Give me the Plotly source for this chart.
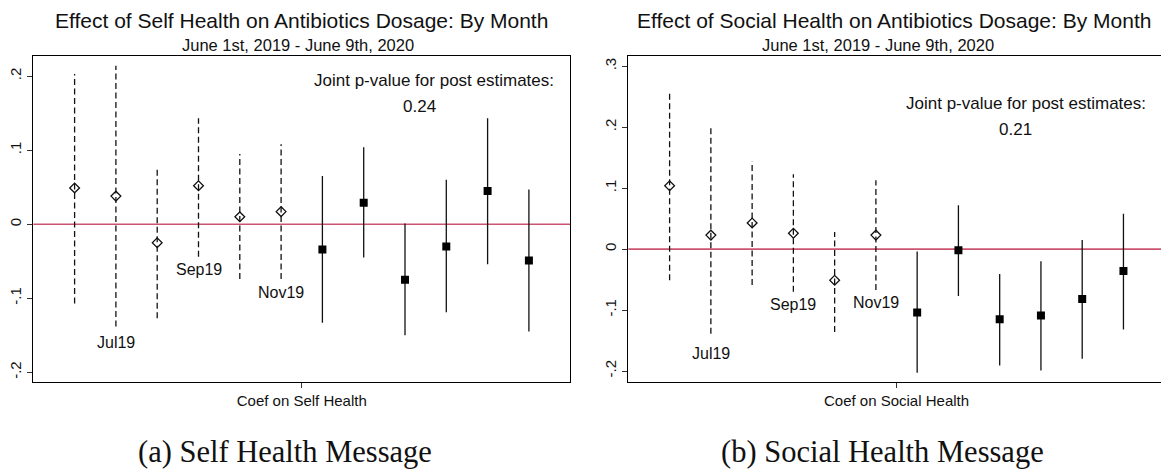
import plotly.graph_objects as go

# Monthly event-study coefficients (periods 1-6 are pre-period months, 7-12 post)
periods = list(range(1, 13))
n_pre = 6

self_coef = [0.049, 0.038, -0.025, 0.052, 0.010, 0.017, -0.034, 0.029, -0.075, -0.030, 0.045, -0.049]
self_lo = [-0.107, -0.138, -0.127, -0.044, -0.074, -0.074, -0.133, -0.045, -0.150, -0.119, -0.054, -0.145]
self_hi = [0.203, 0.214, 0.076, 0.143, 0.095, 0.108, 0.065, 0.104, 0.001, 0.060, 0.143, 0.047]

social_coef = [0.104, 0.023, 0.043, 0.026, -0.051, 0.023, -0.104, -0.002, -0.115, -0.109, -0.082, -0.036]
social_lo = [-0.051, -0.139, -0.059, -0.070, -0.136, -0.067, -0.203, -0.077, -0.191, -0.199, -0.180, -0.132]
social_hi = [0.258, 0.199, 0.144, 0.123, 0.028, 0.113, -0.004, 0.072, -0.041, -0.020, 0.015, 0.058]

month_labels = ["Jul19", "Sep19", "Nov19"]
month_periods = [2, 4, 6]

y_tickvals_self = [-0.2, -0.1, 0.0, 0.1, 0.2]
y_ticktext_self = ["-.2", "-.1", "0", ".1", ".2"]
y_tickvals_social = [-0.2, -0.1, 0.0, 0.1, 0.2, 0.3]
y_ticktext_social = ["-.2", "-.1", "0", ".1", ".2", ".3"]

titles = ["Effect of Self Health on Antibiotics Dosage: By Month",
          "Effect of Social Health on Antibiotics Dosage: By Month"]
subtitle = "June 1st, 2019 - June 9th, 2020"
x_titles = ["Coef on Self Health", "Coef on Social Health"]
joint_p = ["0.24", "0.21"]
captions = ["(a) Self Health Message", "(b) Social Health Message"]

W, H = 1161, 472
SANS = "Liberation Sans, Arial, Helvetica, sans-serif"
SERIF = "Liberation Serif, Times New Roman, serif"
INK = "#111111"
ZERO = "#cc5471"


def px_x(v):
    return v / W


def px_y(v):
    return 1 - v / H


def segments(xs, lo, hi):
    sx, sy = [], []
    for x, a, b in zip(xs, lo, hi):
        sx += [x, x, None]
        sy += [a, b, None]
    return sx, sy


def text(x, y, s, size, family=SANS, **kw):
    fig.add_annotation(x=x, y=y, text=s, showarrow=False, xanchor="center",
                       yanchor="middle", font=dict(family=family, size=size, color=INK),
                       **kw)


fig = go.Figure()

panels = [
    dict(xa="x", ya="y", coef=self_coef, lo=self_lo, hi=self_hi,
         label_shift=[-16, -13, -13]),
    dict(xa="x2", ya="y2", coef=social_coef, lo=social_lo, hi=social_hi,
         label_shift=[-20, -13, -13]),
]

for p in panels:
    pre_x = periods[:n_pre]
    post_x = periods[n_pre:]
    # zero reference line
    fig.add_shape(type="line", xref=f"{p['xa']} domain", yref=p["ya"],
                  x0=0, x1=1, y0=0, y1=0,
                  line=dict(color=ZERO, width=1.6), layer="below")
    # confidence intervals: dashed before, solid after
    sx, sy = segments(pre_x, p["lo"][:n_pre], p["hi"][:n_pre])
    fig.add_trace(go.Scatter(x=sx, y=sy, mode="lines", xaxis=p["xa"], yaxis=p["ya"],
                             line=dict(color=INK, width=1.3, dash="6px,3.5px"),
                             hoverinfo="skip"))
    sx, sy = segments(post_x, p["lo"][n_pre:], p["hi"][n_pre:])
    fig.add_trace(go.Scatter(x=sx, y=sy, mode="lines", xaxis=p["xa"], yaxis=p["ya"],
                             line=dict(color=INK, width=1.3), hoverinfo="skip"))
    # point estimates
    fig.add_trace(go.Scatter(x=pre_x, y=p["coef"][:n_pre], mode="markers",
                             xaxis=p["xa"], yaxis=p["ya"],
                             marker=dict(symbol="diamond-open", size=7.5,
                                         color=INK, line=dict(width=1.3, color=INK))))
    fig.add_trace(go.Scatter(x=post_x, y=p["coef"][n_pre:], mode="markers",
                             xaxis=p["xa"], yaxis=p["ya"],
                             marker=dict(symbol="square", size=8, color="black")))
    # month labels under selected pre-period intervals
    for lab, per, sh in zip(month_labels, month_periods, p["label_shift"]):
        text(per, p["lo"][per - 1], lab, 16, xref=p["xa"], yref=p["ya"], yshift=sh)

# titles, subtitles, joint p-values and captions
title_cx = [301.6, 894]
subtitle_cx = [297.5, 878]
for i in range(2):
    text(px_x(title_cx[i]), px_y(20.5), titles[i], 21, xref="paper", yref="paper")
    text(px_x(subtitle_cx[i]), px_y(45), subtitle, 16.5, xref="paper", yref="paper")

joint_pos = [(434, 80, 419.5, 107), (1026, 103.3, 1015, 130)]
for i, (jx, jy, vx, vy) in enumerate(joint_pos):
    text(px_x(jx), px_y(jy), "Joint p-value for post estimates:", 17,
         xref="paper", yref="paper")
    text(px_x(vx), px_y(vy), joint_p[i], 17, xref="paper", yref="paper")

caption_cx = [285, 882]
for i in range(2):
    text(px_x(caption_cx[i]), px_y(452), captions[i], 30.5, family=SERIF,
         xref="paper", yref="paper")

y_dom = [px_y(382.3), px_y(56.3)]
axis_common = dict(showgrid=False, zeroline=False, ticks="outside", ticklen=5,
                   tickwidth=1.2, tickcolor="#333333", showline=True,
                   linecolor="black", linewidth=1.2, fixedrange=True)

fig.update_layout(
    width=W, height=H,
    margin=dict(l=0, r=0, t=0, b=0),
    paper_bgcolor="white", plot_bgcolor="white",
    showlegend=False,
    xaxis=dict(domain=[px_x(33.3), px_x(570.2)], range=[0, 13],
               tickvals=[6.5], ticktext=[x_titles[0]], mirror=True,
               tickfont=dict(family=SANS, size=15, color=INK), anchor="y",
               **axis_common),
    yaxis=dict(domain=y_dom, range=[-0.2135, 0.2268],
               tickvals=y_tickvals_self, ticktext=y_ticktext_self, tickangle=-90,
               mirror=True, anchor="x",
               tickfont=dict(family=SANS, size=15, color=INK), **axis_common),
    xaxis2=dict(domain=[px_x(628.35), 1.0], range=[0, 12.91],
                tickvals=[6.5], ticktext=[x_titles[1]], mirror=True,
                tickfont=dict(family=SANS, size=15, color=INK), anchor="y2",
                **axis_common),
    yaxis2=dict(domain=y_dom, range=[-0.2185, 0.3164],
                tickvals=y_tickvals_social, ticktext=y_ticktext_social, tickangle=-90,
                mirror=False, anchor="x2",
                tickfont=dict(family=SANS, size=15, color=INK), **axis_common),
)

fig.write_html("out.html")
